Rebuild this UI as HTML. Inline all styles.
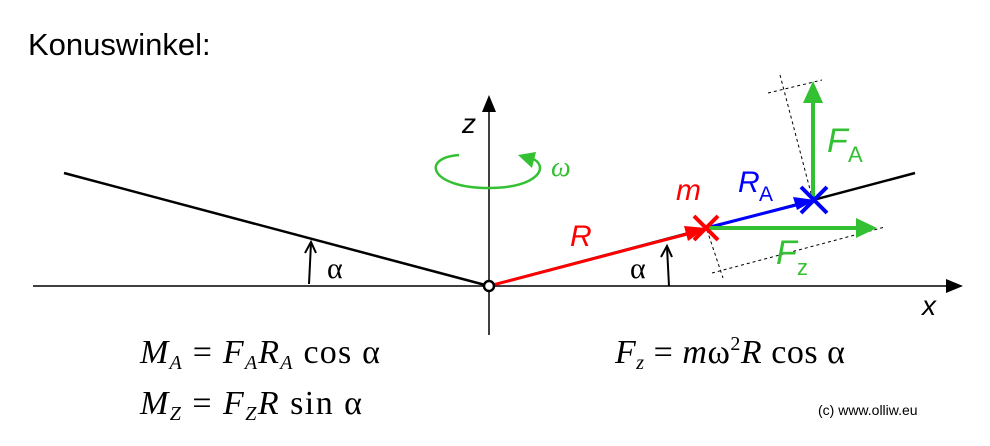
<!DOCTYPE html>
<html><head><style>
body{margin:0;background:#fff;}
svg{display:block}
text{font-family:"Liberation Sans",sans-serif}
text.s,.s text{font-family:"Liberation Serif",serif}
</style></head><body>
<svg width="990" height="446" viewBox="0 0 990 446">
<text x="28" y="55" font-size="31">Konuswinkel:</text>
<line x1="33" y1="286" x2="950" y2="286" stroke="#000" stroke-width="1.5"/>
<path d="M946,279L963,286L946,293z" fill="#000"/>
<line x1="489" y1="335" x2="489" y2="110" stroke="#000" stroke-width="1.5"/>
<path d="M482,112L489,95L496,112z" fill="#000"/>
<text x="462" y="133" font-size="28" font-style="italic">z</text>
<text x="922" y="315" font-size="28" font-style="italic">x</text>
<line x1="64" y1="173" x2="489" y2="286" stroke="#000" stroke-width="2.5"/>
<line x1="489" y1="286" x2="915" y2="173" stroke="#000" stroke-width="2.5"/>
<path d="M459,155 C420,158 430,188 489,188 C540,188 550,165 531,158" fill="none" stroke="#33c033" stroke-width="2.5"/>
<path d="M518,155L536,152L532,168z" fill="#33c033"/>
<text x="551" y="176" font-size="28" font-style="italic" fill="#33c033" class="s">ω</text>
<path d="M309,284 L311,243" stroke="#000" stroke-width="2" fill="none"/>
<path d="M305,253L311,242L316,253" stroke="#000" stroke-width="2" fill="none"/>
<text x="327" y="278" font-size="30" class="s">α</text>
<path d="M669,286 L667,247" stroke="#000" stroke-width="2" fill="none"/>
<path d="M661,257L667,246L672,257" stroke="#000" stroke-width="2" fill="none"/>
<text x="630" y="278" font-size="30" class="s">α</text>
<g stroke="#000" stroke-width="1" stroke-dasharray="3,3">
<line x1="780" y1="75" x2="812" y2="197"/>
<line x1="707" y1="230" x2="723" y2="278"/>
<line x1="768" y1="93" x2="822" y2="80"/>
<line x1="712" y1="273" x2="885" y2="227"/>
</g>
<line x1="489" y1="286" x2="695" y2="232" stroke="#f00" stroke-width="3"/>
<path d="M684,226L706,228L688,241z" fill="#f00"/>
<text x="570" y="246" font-size="30" font-style="italic" fill="#f00">R</text>
<text x="676" y="200" font-size="30" font-style="italic" fill="#f00">m</text>
<line x1="706" y1="228" x2="804" y2="203" stroke="#00f" stroke-width="3"/>
<path d="M793,197L815,200L797,210z" fill="#00f"/>
<text x="738" y="192" font-size="30" font-style="italic" fill="#00f">R</text>
<text x="759" y="201" font-size="21" fill="#00f">A</text>
<line x1="706" y1="228" x2="860" y2="228" stroke="#33c033" stroke-width="4"/>
<path d="M856,218L877,228L856,238z" fill="#33c033"/>
<line x1="813" y1="200" x2="813" y2="98" stroke="#33c033" stroke-width="4"/>
<path d="M803,103L813,81L823,103z" fill="#33c033"/>
<text x="827" y="152" font-size="34" font-style="italic" fill="#33c033">F</text>
<text x="848" y="162" font-size="22" fill="#33c033">A</text>
<text x="776" y="264" font-size="34" font-style="italic" fill="#33c033">F</text>
<text x="797" y="275" font-size="22" fill="#33c033">z</text>
<g stroke="#f00" stroke-width="4"><line x1="694" y1="216" x2="718" y2="240"/><line x1="718" y1="216" x2="694" y2="240"/></g>
<g stroke="#00f" stroke-width="4"><line x1="801" y1="187" x2="827" y2="213"/><line x1="827" y1="187" x2="801" y2="213"/></g>
<circle cx="489" cy="286" r="5" fill="#fff" stroke="#000" stroke-width="2.5"/>
<g class="s" font-size="34">
<text x="140" y="363" textLength="240" lengthAdjust="spacing"><tspan font-style="italic">M</tspan><tspan font-size="20" dy="6" font-style="italic">A</tspan><tspan dy="-6"> = </tspan><tspan font-style="italic">F</tspan><tspan font-size="20" dy="6" font-style="italic">A</tspan><tspan dy="-6" font-style="italic">R</tspan><tspan font-size="20" dy="6" font-style="italic">A</tspan><tspan dy="-6"> cos α</tspan></text>
<text x="140" y="414" textLength="222" lengthAdjust="spacing"><tspan font-style="italic">M</tspan><tspan font-size="20" dy="6" font-style="italic">Z</tspan><tspan dy="-6"> = </tspan><tspan font-style="italic">F</tspan><tspan font-size="20" dy="6" font-style="italic">Z</tspan><tspan dy="-6" font-style="italic">R</tspan><tspan> sin α</tspan></text>
<text x="615" y="363" textLength="230" lengthAdjust="spacing"><tspan font-style="italic">F</tspan><tspan font-size="20" dy="6" font-style="italic">z</tspan><tspan dy="-6"> = </tspan><tspan font-style="italic">m</tspan><tspan>ω</tspan><tspan font-size="20" dy="-13">2</tspan><tspan dy="13" font-style="italic">R</tspan><tspan> cos α</tspan></text>
</g>
<text x="818" y="415" font-size="14">(c) www.olliw.eu</text>
</svg>
</body></html>
